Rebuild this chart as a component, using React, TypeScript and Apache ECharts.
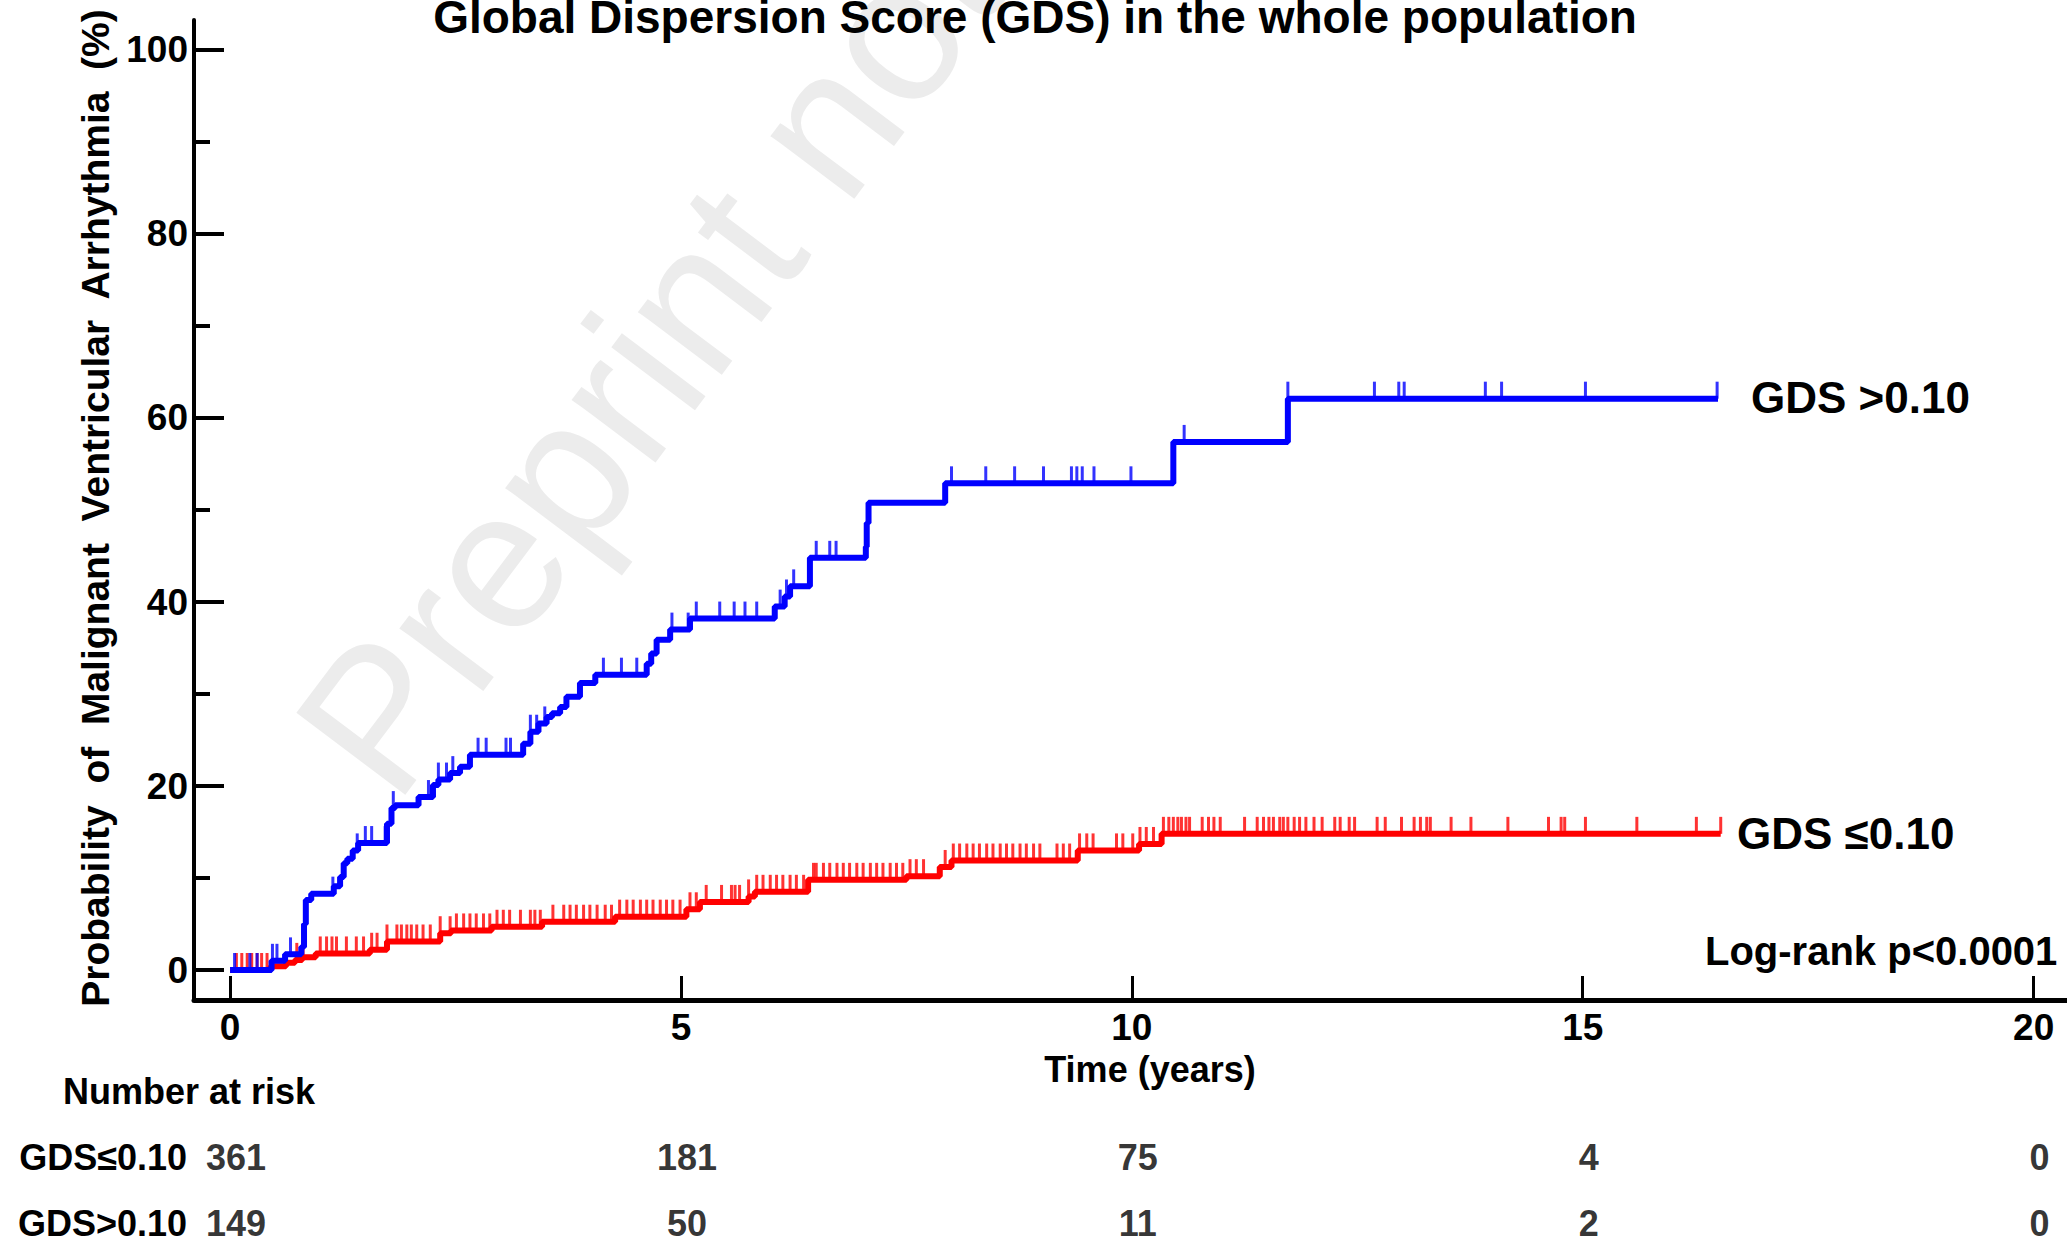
import React, { useEffect, useRef } from "react";
import * as echarts from "echarts";

const FONT = 'Arial, "Liberation Sans", Helvetica, sans-serif';

// Kaplan-Meier step data (time in years, cumulative probability %)
const blueStepTimes = [0, 0.46, 0.61, 0.79, 0.82, 0.84, 0.9, 1.15, 1.22, 1.26, 1.3, 1.36, 1.42, 1.74, 1.79, 1.83, 2.09, 2.25, 2.31, 2.44, 2.55, 2.66, 3.25, 3.33, 3.42, 3.51, 3.57, 3.66, 3.73, 3.88, 4.05, 4.62, 4.67, 4.73, 4.88, 5.1, 6.04, 6.15, 6.21, 6.43, 7.05, 7.06, 7.08, 7.93, 10.46, 11.73, 16.5];
const blueStepValues = [0, 1.0, 1.7, 2.5, 5.0, 7.6, 8.3, 9.1, 10.1, 11.6, 12.1, 13.0, 13.8, 15.9, 17.6, 17.9, 18.8, 20.1, 20.7, 21.4, 22.1, 23.4, 24.6, 25.9, 26.8, 27.5, 27.9, 28.6, 29.7, 31.2, 32.1, 33.3, 34.4, 35.9, 37.0, 38.2, 39.5, 40.6, 41.7, 44.8, 46.0, 48.6, 50.8, 52.9, 57.4, 62.1, 62.1];
const blueCensorTimes = [0.05, 0.22, 0.3, 0.47, 0.52, 0.67, 0.83, 1.14, 1.41, 1.5, 1.57, 1.72, 1.81, 2.2, 2.31, 2.4, 2.47, 2.75, 2.84, 3.06, 3.11, 3.33, 3.4, 3.49, 4.14, 4.34, 4.51, 4.9, 5.08, 5.17, 5.43, 5.59, 5.71, 5.84, 6.1, 6.17, 6.25, 6.5, 6.65, 6.72, 8.0, 8.38, 8.7, 9.02, 9.33, 9.39, 9.45, 9.58, 9.99, 10.58, 11.73, 12.69, 12.96, 13.02, 13.92, 14.1, 15.03, 16.49];

const redStepTimes = [0, 0.45, 0.62, 0.72, 0.8, 0.95, 1.55, 1.74, 2.33, 2.45, 2.9, 3.46, 4.27, 5.06, 5.21, 5.75, 5.82, 6.41, 7.5, 7.87, 8.0, 9.4, 10.08, 10.33, 16.53];
const redStepValues = [0, 0.4, 0.8, 1.1, 1.4, 1.8, 2.2, 3.1, 4.0, 4.3, 4.7, 5.25, 5.8, 6.6, 7.4, 8.0, 8.5, 9.8, 10.2, 11.2, 11.9, 13.0, 13.7, 14.8, 14.8];
const redCensorTimes = [0.07, 0.13, 0.19, 0.24, 0.3, 0.35, 0.41, 0.74, 0.81, 1.0, 1.07, 1.13, 1.18, 1.29, 1.4, 1.48, 1.57, 1.63, 1.74, 1.85, 1.9, 1.96, 2.01, 2.07, 2.14, 2.22, 2.33, 2.44, 2.51, 2.59, 2.66, 2.73, 2.81, 2.88, 2.96, 3.03, 3.1, 3.22, 3.33, 3.38, 3.44, 3.58, 3.7, 3.77, 3.84, 3.92, 3.99, 4.07, 4.16, 4.23, 4.32, 4.4, 4.47, 4.55, 4.62, 4.69, 4.77, 4.84, 4.91, 4.99, 5.1, 5.17, 5.28, 5.45, 5.56, 5.6, 5.65, 5.75, 5.84, 5.91, 5.99, 6.06, 6.13, 6.21, 6.28, 6.36, 6.47, 6.5, 6.58, 6.65, 6.73, 6.8, 6.87, 6.95, 7.02, 7.1, 7.17, 7.24, 7.32, 7.39, 7.46, 7.54, 7.61, 7.69, 7.93, 8.02, 8.09, 8.17, 8.24, 8.31, 8.39, 8.46, 8.54, 8.61, 8.68, 8.76, 8.83, 8.91, 8.98, 9.17, 9.24, 9.31, 9.42, 9.5, 9.57, 9.83, 9.9, 10.01, 10.09, 10.16, 10.24, 10.35, 10.41, 10.46, 10.51, 10.55, 10.6, 10.64, 10.78, 10.85, 10.91, 10.98, 11.25, 11.39, 11.46, 11.52, 11.57, 11.64, 11.68, 11.73, 11.8, 11.86, 11.93, 12.02, 12.11, 12.25, 12.31, 12.41, 12.47, 12.72, 12.81, 12.99, 13.13, 13.2, 13.27, 13.31, 13.54, 13.76, 14.17, 14.62, 14.76, 14.8, 15.03, 15.6, 16.26, 16.53];

// Axis ticks
const xTicks = [0, 5, 10, 15, 20];
const yMajorTicks = [0, 20, 40, 60, 80, 100];
const yMinorTicks = [10, 30, 50, 70, 90];

// Number at risk table
const riskRows = ["GDS\u22640.10", "GDS>0.10"];
const riskTimes = [0, 5, 10, 15, 20];
const riskLow = [361, 181, 75, 4, 0];
const riskHigh = [149, 50, 11, 2, 0];

const X_MIN = -0.4;
const X_MAX = 20.37;
const Y_MIN = -3.26;
const Y_MAX = 103.26;

function valueAt(times: number[], values: number[], t: number): number {
  let v = values[0];
  for (let i = 0; i < times.length; i++) {
    if (times[i] <= t + 1e-9) v = values[i];
  }
  return v;
}

function zip(a: number[], b: number[]) {
  return a.map((x, i) => [x, b[i]]);
}

function txt(x: number, y: number, text: string, size: number, align: string, extra: any = {}) {
  return {
    type: "text",
    x,
    y,
    z: 100,
    silent: true,
    ...extra,
    style: {
      text,
      fontSize: size,
      fontWeight: "bold",
      fontFamily: FONT,
      fill: "#000",
      align,
      textAlign: align,
      verticalAlign: "middle",
      textVerticalAlign: "middle",
    },
  };
}

export default function App() {
  const ref = useRef<HTMLDivElement>(null);

  useEffect(() => {
    if (!ref.current) return;
    const chart = echarts.init(ref.current, undefined, { renderer: "svg" });

    const labelStyle = {
      fontSize: 37,
      fontWeight: "bold",
      color: "#000",
      fontFamily: FONT,
    };

    const riskData: any[] = [];
    riskTimes.forEach((t, i) => {
      riskData.push([t, riskRows[0], riskLow[i]]);
      riskData.push([t, riskRows[1], riskHigh[i]]);
    });

    const option: any = {
      animation: false,
      backgroundColor: "#ffffff",
      grid: [
        { left: 194, right: 0, top: 20, height: 980 },
        { left: 194, right: 0, top: 1157, height: 66 },
      ],
      xAxis: [
        {
          type: "value",
          gridIndex: 0,
          min: X_MIN,
          max: X_MAX,
          axisLine: { show: true, onZero: false, lineStyle: { color: "#000", width: 5 } },
          axisTick: {
            show: true,
            inside: true,
            length: 24,
            customValues: xTicks,
            lineStyle: { color: "#000", width: 3 },
          },
          axisLabel: { ...labelStyle, customValues: xTicks, margin: 9 },
          splitLine: { show: false },
        },
        { type: "value", gridIndex: 1, min: X_MIN, max: X_MAX, show: false },
      ],
      yAxis: [
        {
          type: "value",
          gridIndex: 0,
          min: Y_MIN,
          max: Y_MAX,
          axisLine: { show: true, onZero: false, lineStyle: { color: "#000", width: 4 } },
          axisTick: {
            show: true,
            inside: true,
            length: 30,
            customValues: yMajorTicks,
            lineStyle: { color: "#000", width: 4 },
          },
          axisLabel: { ...labelStyle, customValues: yMajorTicks, margin: 6 },
          splitLine: { show: false },
        },
        {
          type: "value",
          gridIndex: 0,
          position: "left",
          min: Y_MIN,
          max: Y_MAX,
          axisLine: { show: false, onZero: false },
          axisTick: {
            show: true,
            inside: true,
            length: 16,
            customValues: yMinorTicks,
            lineStyle: { color: "#000", width: 4 },
          },
          axisLabel: { show: false },
          splitLine: { show: false },
        },
        {
          type: "category",
          gridIndex: 1,
          inverse: true,
          boundaryGap: false,
          data: riskRows,
          axisLine: { show: false, onZero: false },
          axisTick: { show: false },
          axisLabel: { fontSize: 36, fontWeight: "bold", color: "#000", fontFamily: FONT, margin: 7 },
          splitLine: { show: false },
        },
      ],
      series: [
        {
          name: "GDS \u22640.10",
          type: "line",
          xAxisIndex: 0,
          yAxisIndex: 0,
          step: "end",
          symbol: "none",
          data: zip(redStepTimes, redStepValues),
          lineStyle: { color: "#ff0000", width: 6 },
          z: 3,
        },
        {
          name: "GDS \u22640.10 censored",
          type: "scatter",
          xAxisIndex: 0,
          yAxisIndex: 0,
          symbol: "rect",
          symbolSize: [3, 17],
          symbolOffset: [0, -8.5],
          data: redCensorTimes.map((t) => [t, valueAt(redStepTimes, redStepValues, t)]),
          itemStyle: { color: "#ff0000" },
          z: 3,
        },
        {
          name: "GDS >0.10",
          type: "line",
          xAxisIndex: 0,
          yAxisIndex: 0,
          step: "end",
          symbol: "none",
          data: zip(blueStepTimes, blueStepValues),
          lineStyle: { color: "#0000ff", width: 6 },
          z: 4,
        },
        {
          name: "GDS >0.10 censored",
          type: "scatter",
          xAxisIndex: 0,
          yAxisIndex: 0,
          symbol: "rect",
          symbolSize: [3, 17],
          symbolOffset: [0, -8.5],
          data: blueCensorTimes.map((t) => [t, valueAt(blueStepTimes, blueStepValues, t)]),
          itemStyle: { color: "#0000ff" },
          z: 4,
        },
        {
          name: "risk",
          type: "scatter",
          xAxisIndex: 1,
          yAxisIndex: 2,
          symbolSize: 1,
          itemStyle: { color: "rgba(0,0,0,0)" },
          data: riskData,
          label: {
            show: true,
            position: "inside",
            offset: [6, 0],
            formatter: (p: any) => String(p.value[2]),
            fontSize: 36,
            fontWeight: "bold",
            color: "#000",
            fontFamily: FONT,
          },
        },
      ],
      graphic: [
        {
          type: "text",
          x: 420,
          y: 826,
          rotation: (53 * Math.PI) / 180,
          z: -10,
          silent: true,
          style: {
            text: "Preprint not peer reviewed",
            fontSize: 198,
            fontFamily: FONT,
            fill: "#ececec",
            align: "left",
            textAlign: "left",
            verticalAlign: "bottom",
            textVerticalAlign: "bottom",
          },
        },
        txt(1035, 17, "Global Dispersion Score (GDS) in the whole population", 46, "center"),
        txt(95, 508, "Probability  of  Malignant  Ventricular  Arrhythmia  (%)", 39, "center", {
          rotation: Math.PI / 2,
        }),
        txt(1150, 1069, "Time (years)", 36, "center"),
        txt(63, 1091, "Number at risk", 36, "left"),
        txt(1751, 397, "GDS >0.10", 44, "left"),
        txt(1737, 833, "GDS \u22640.10", 44, "left"),
        txt(1705, 951, "Log-rank p<0.0001", 40, "left"),
      ],
    };

    chart.setOption(option);
    return () => {
      chart.dispose();
    };
  }, []);

  return (
    <div
      ref={ref}
      style={{
        position: "absolute",
        left: 0,
        top: 0,
        width: 2067,
        height: 1245,
        background: "#fff",
      }}
    />
  );
}
